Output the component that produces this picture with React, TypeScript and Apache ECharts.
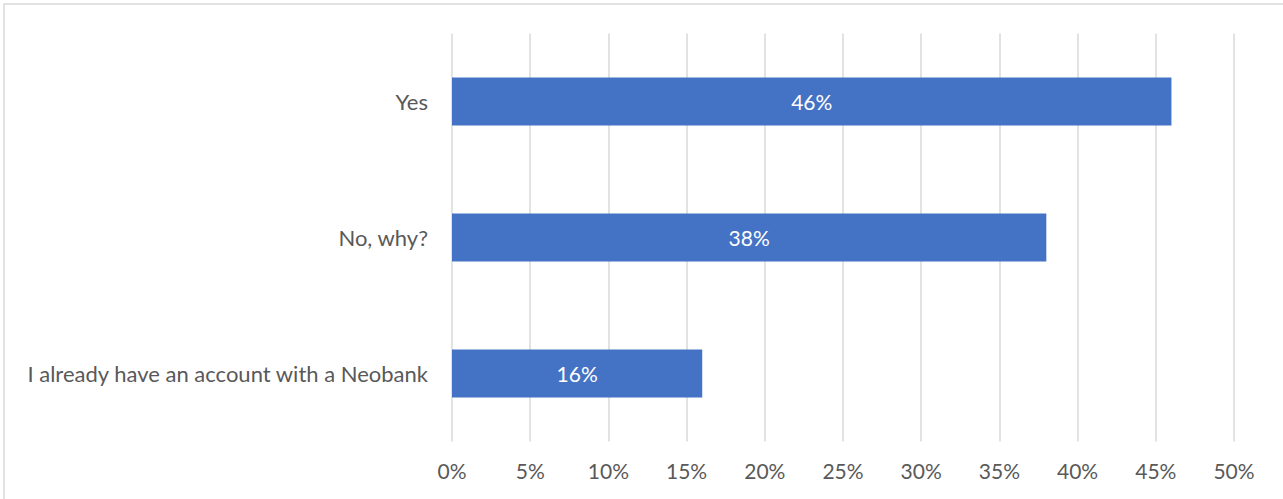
import React, { useEffect, useRef } from "react";
import * as echarts from "echarts";

const categories = ["Yes", "No, why?", "I already have an account with a Neobank"];
const values = [46, 38, 16];
const xTicks = { min: 0, max: 50, interval: 5 };

const FONT = "Lato";

export default function App() {
  const ref = useRef<HTMLDivElement>(null);
  useEffect(() => {
    if (!ref.current) return;
    const chart = echarts.init(ref.current, null, { renderer: "svg" });
    chart.setOption({
      animation: false,
      backgroundColor: "#ffffff",
      textStyle: { fontFamily: FONT },
      graphic: [
        {
          type: "rect",
          shape: { x: 4, y: 4, width: 1400, height: 700 },
          style: { fill: "none", stroke: "#d9d9d9", lineWidth: 1.5 },
          silent: true,
        },
      ],
      grid: { left: 452, right: 49, top: 33.5, bottom: 57.5, containLabel: false },
      xAxis: {
        type: "value",
        min: xTicks.min,
        max: xTicks.max,
        interval: xTicks.interval,
        axisLine: { show: false },
        axisTick: { show: false },
        splitLine: { show: true, lineStyle: { color: "#d9d9d9", width: 1.5 } },
        axisLabel: {
          formatter: "{value}%",
          color: "#595959",
          fontSize: 21,
          fontFamily: FONT,
          margin: 18,
        },
      },
      yAxis: {
        type: "category",
        data: categories,
        inverse: true,
        axisLine: { show: false },
        axisTick: { show: false },
        splitLine: { show: false },
        axisLabel: {
          color: "#595959",
          fontSize: 22,
          fontFamily: FONT,
          margin: 24,
        },
      },
      series: [
        {
          type: "bar",
          data: values,
          barWidth: 48,
          itemStyle: { color: "#4472c4" },
          label: {
            show: true,
            position: "inside",
            formatter: "{c}%",
            color: "#ffffff",
            fontSize: 21,
            fontFamily: FONT,
          },
        },
      ],
    });
    return () => chart.dispose();
  }, []);
  return (
    <div
      ref={ref}
      style={{ position: "fixed", left: 0, top: 0, width: 1283, height: 499 }}
    />
  );
}
